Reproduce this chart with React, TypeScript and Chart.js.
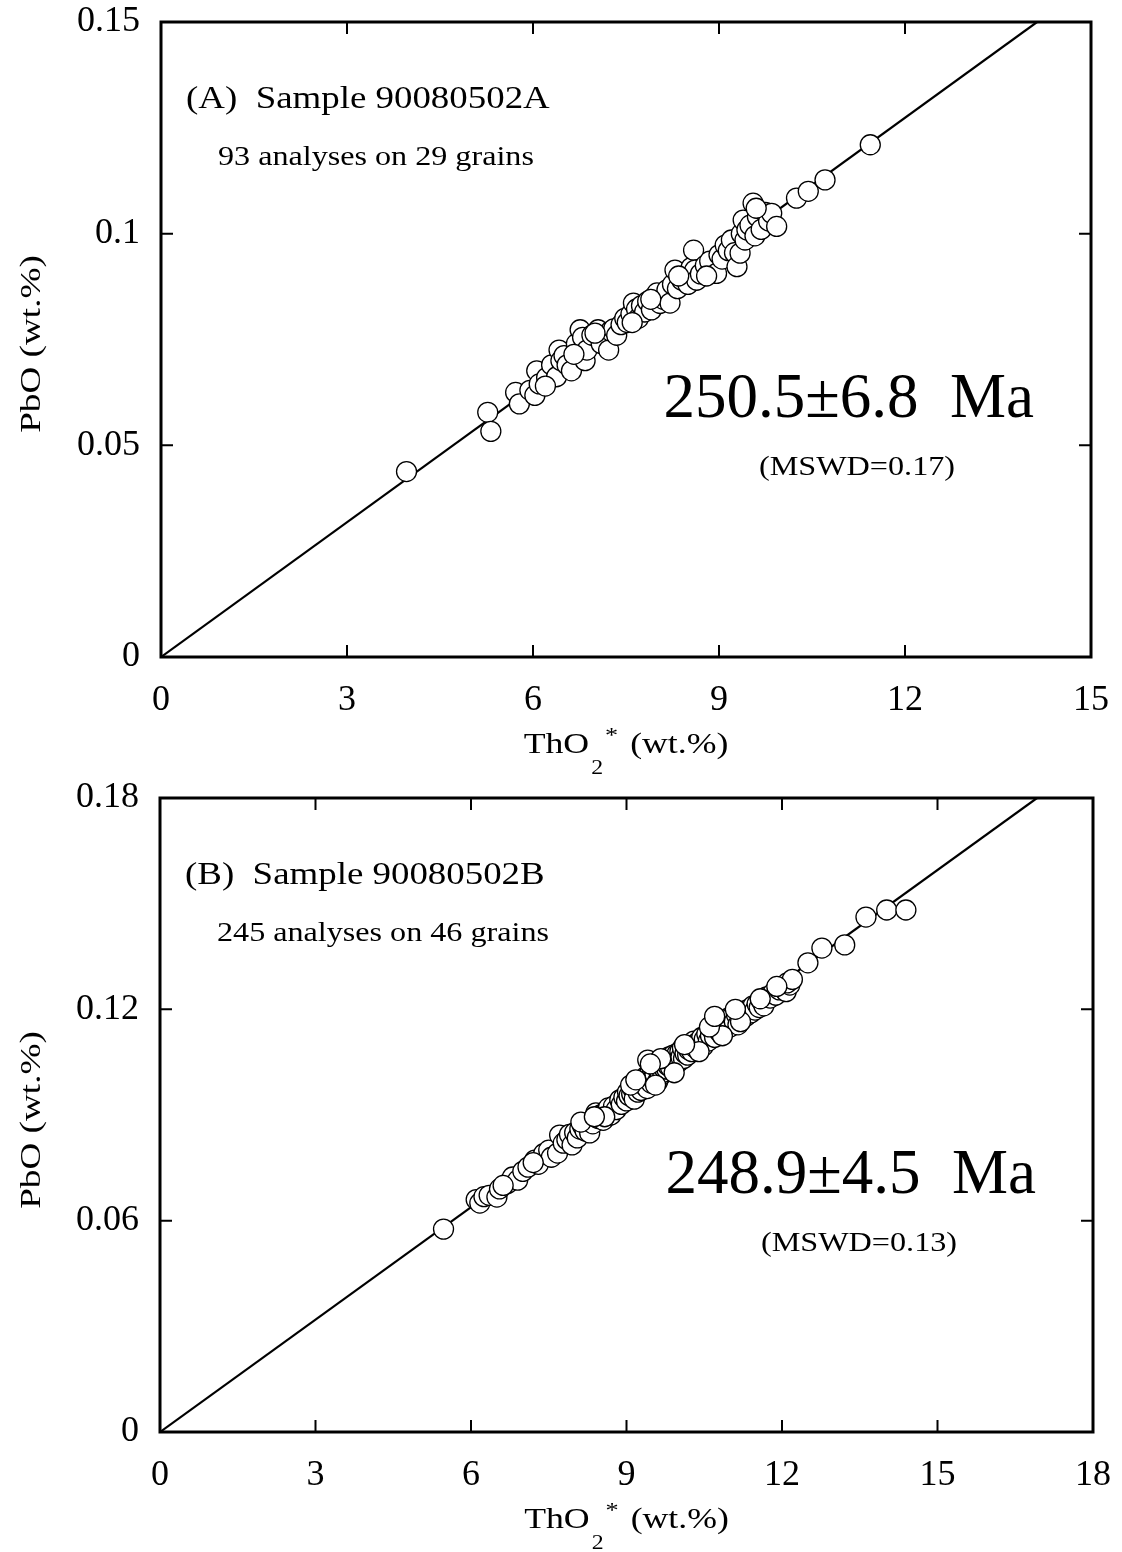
import React, { useEffect, useRef } from "react";
import { Chart, registerables } from "chart.js";

Chart.register(...registerables);

// ---------- Panel A data (ThO2* wt.%, PbO wt.%) ----------
const thoA = [
  3.96, 5.27, 5.32, 5.72, 5.78, 5.95, 6.03, 6.06, 6.1, 6.22, 6.3, 6.38, 6.42, 6.45, 6.5, 6.55,
  6.62, 6.7, 6.76, 6.8, 6.84, 6.87, 6.95, 7.05, 7.1, 7.22, 7.25, 7.3, 7.35, 7.42, 7.48, 7.52,
  7.58, 7.62, 7.67, 7.7, 7.75, 7.8, 7.85, 7.91, 7.95, 8.0, 8.05, 8.1, 8.16, 8.21, 8.25, 8.29,
  8.33, 8.4, 8.45, 8.5, 8.55, 8.59, 8.61, 8.64, 8.7, 8.78, 8.85, 8.96, 9.0, 9.05, 9.1, 9.15,
  9.2, 9.25, 9.29, 9.34, 9.36, 9.39, 9.42, 9.45, 9.5, 9.55, 9.58, 9.62, 9.68, 9.75, 9.8, 9.85,
  9.93, 10.25, 10.44, 10.71, 11.44, 6.2, 7.0, 7.9, 8.8, 9.6, 6.66, 8.35, 7.6,
];
const pboA = [
  0.0438, 0.0578, 0.0533, 0.0625, 0.0598, 0.063, 0.0618, 0.0676, 0.0645, 0.066, 0.069, 0.0662,
  0.0725, 0.07, 0.0712, 0.069, 0.0676, 0.074, 0.0773, 0.0755, 0.07, 0.0725, 0.076, 0.0773,
  0.074, 0.0725, 0.077, 0.0775, 0.076, 0.0785, 0.08, 0.079, 0.081, 0.0836, 0.0822, 0.08,
  0.083, 0.0815, 0.084, 0.082, 0.085, 0.086, 0.0835, 0.0845, 0.0867, 0.0836, 0.088, 0.0914,
  0.087, 0.089, 0.09, 0.088, 0.092, 0.0961, 0.0914, 0.089, 0.0905, 0.0925, 0.0935, 0.0906,
  0.095, 0.094, 0.0973, 0.096, 0.0985, 0.0955, 0.0922, 0.0954, 0.1, 0.1032, 0.0985, 0.1009,
  0.102, 0.1072, 0.0995, 0.104, 0.101, 0.105, 0.103, 0.1048, 0.1017, 0.1084, 0.11, 0.1127,
  0.121, 0.064, 0.0765, 0.0845, 0.09, 0.106, 0.0715, 0.09, 0.079,
];
const lineA = [
  [0, 0],
  [14.13, 0.15],
];
const xTicksA = [0, 3, 6, 9, 12, 15];
const yTicksA = [0, 0.05, 0.1, 0.15];
const textA = ["(A)  Sample 90080502A", "93 analyses on 29 grains", "250.5\u00b16.8  Ma", "(MSWD=0.17)"];

// ---------- Panel B data ----------
const thoB = [
  5.47, 6.1, 6.17, 6.25, 6.35, 6.5, 6.55, 6.7, 6.8, 6.9, 7.0, 7.1, 7.23, 7.3, 7.4, 7.5, 7.55,
  7.67, 7.71, 7.78, 7.85, 7.9, 7.95, 8.0, 8.05, 8.1, 8.15, 8.2, 8.29, 8.3, 8.35, 8.41, 8.45,
  8.5, 8.55, 8.6, 8.65, 8.7, 8.75, 8.8, 8.87, 8.9, 8.95, 9.0, 9.02, 9.05, 9.1, 9.12, 9.15, 9.2,
  9.22, 9.25, 9.28, 9.3, 9.33, 9.35, 9.38, 9.4, 9.41, 9.43, 9.45, 9.48, 9.5, 9.52, 9.55, 9.58,
  9.6, 9.62, 9.65, 9.68, 9.7, 9.72, 9.75, 9.78, 9.8, 9.82, 9.85, 9.88, 9.9, 9.93, 9.95, 9.98,
  10.0, 10.03, 10.05, 10.08, 10.1, 10.13, 10.15, 10.18, 10.2, 10.23, 10.26, 10.3, 10.33, 10.36,
  10.41, 10.45, 10.48, 10.5, 10.55, 10.58, 10.62, 10.66, 10.7, 10.73, 10.76, 10.8, 10.83,
  10.86, 10.9, 10.93, 10.96, 11.0, 11.04, 11.08, 11.12, 11.15, 11.18, 11.22, 11.26, 11.3,
  11.35, 11.4, 11.44, 11.48, 11.52, 11.56, 11.6, 11.65, 11.7, 11.77, 11.82, 11.88, 11.95,
  12.02, 12.08, 12.15, 12.5, 12.77, 13.21, 13.62, 14.02, 14.39, 8.12, 8.58, 9.08, 9.56, 9.92,
  10.4, 10.85, 11.2, 6.62, 7.2, 8.38, 9.18, 9.66, 10.12, 10.6, 11.1, 11.58, 12.1, 12.2, 9.46,
  10.7, 11.9,
];
const pboB = [
  0.0576, 0.066, 0.065, 0.0668, 0.0672, 0.0667, 0.069, 0.0705, 0.0724, 0.0715, 0.074, 0.0752,
  0.0772, 0.076, 0.079, 0.08, 0.078, 0.0792, 0.0843, 0.082, 0.083, 0.0845, 0.0815, 0.085,
  0.0835, 0.086, 0.087, 0.0855, 0.0849, 0.088, 0.0875, 0.0906, 0.089, 0.09, 0.0885, 0.091,
  0.092, 0.09, 0.0925, 0.0915, 0.0943, 0.093, 0.095, 0.094, 0.0965, 0.0955, 0.096, 0.0975,
  0.0945, 0.098, 0.0965, 0.099, 0.097, 0.1, 0.0985, 0.0991, 0.101, 0.0975, 0.1056, 0.1,
  0.102, 0.099, 0.103, 0.1005, 0.1015, 0.104, 0.0995, 0.1025, 0.101, 0.1045, 0.102, 0.1034,
  0.1055, 0.103, 0.104, 0.1065, 0.1035, 0.105, 0.107, 0.1045, 0.106, 0.1075, 0.105, 0.108,
  0.1065, 0.109, 0.106, 0.1075, 0.1095, 0.107, 0.1085, 0.11, 0.108, 0.111, 0.109, 0.1105,
  0.1104, 0.112, 0.1095, 0.1115, 0.113, 0.111, 0.1125, 0.114, 0.112, 0.115, 0.1164, 0.1135,
  0.1155, 0.117, 0.1145, 0.116, 0.1175, 0.115, 0.118, 0.1165, 0.1185, 0.1156, 0.119, 0.1175,
  0.1195, 0.118, 0.12, 0.119, 0.121, 0.1198, 0.1215, 0.1205, 0.1225, 0.121, 0.1235, 0.1232,
  0.1245, 0.124, 0.1255, 0.126, 0.125, 0.1269, 0.1332, 0.1374, 0.1383, 0.1462, 0.1482, 0.1482,
  0.088, 0.0895, 0.0985, 0.0985, 0.102, 0.108, 0.1125, 0.1165, 0.07, 0.0765, 0.0895, 0.1,
  0.106, 0.11, 0.115, 0.12, 0.123, 0.1275, 0.1285, 0.1045, 0.118, 0.1265,
];
const lineB = [
  [0, 0],
  [16.92, 0.18],
];
const xTicksB = [0, 3, 6, 9, 12, 15, 18];
const yTicksB = [0, 0.06, 0.12, 0.18];
const textB = ["(B)  Sample 90080502B", "245 analyses on 46 grains", "248.9\u00b14.5  Ma", "(MSWD=0.13)"];

const SERIF = '"Liberation Serif", "Times New Roman", Times, serif';
const W = 1122;
const H = 776;
const SX = 1.19; // horizontal stretch of the scanned lettering

type PanelProps = {
  xs: number[];
  ys: number[];
  line: number[][];
  xTicks: number[];
  yTicks: number[];
  texts: string[];
  top: number;
  padRight: number;
  padTop: number;
  yAxisWidth: number;
  chartBottom: number;
};

function stretchText(
  ctx: CanvasRenderingContext2D,
  text: string,
  x: number,
  y: number,
  sx: number,
  align: "left" | "right" | "center"
) {
  const w = ctx.measureText(text).width * sx;
  let x0 = x;
  if (align === "right") x0 = x - w;
  if (align === "center") x0 = x - w / 2;
  ctx.save();
  ctx.translate(x0, y);
  ctx.scale(sx, 1);
  ctx.textAlign = "left";
  ctx.fillText(text, 0, 0);
  ctx.restore();
}

function makeOverlay(texts: string[]) {
  return {
    id: "overlay",
    afterDraw(chart: any) {
      const ctx = chart.ctx as CanvasRenderingContext2D;
      const a = chart.chartArea;
      const xs = chart.scales.x;
      const ys = chart.scales.y;
      ctx.save();
      ctx.strokeStyle = "#000";
      ctx.fillStyle = "#000";
      // frame
      ctx.lineWidth = 3;
      ctx.strokeRect(a.left, a.top, a.right - a.left, a.bottom - a.top);
      // inward ticks
      ctx.lineWidth = 2;
      const tl = 12;
      xs.ticks.forEach((t: any) => {
        const px = xs.getPixelForValue(t.value);
        if (Math.abs(px - a.left) < 2 || Math.abs(px - a.right) < 2) return;
        ctx.beginPath();
        ctx.moveTo(px, a.bottom);
        ctx.lineTo(px, a.bottom - tl);
        ctx.moveTo(px, a.top);
        ctx.lineTo(px, a.top + tl);
        ctx.stroke();
      });
      ys.ticks.forEach((t: any) => {
        const py = ys.getPixelForValue(t.value);
        if (Math.abs(py - a.top) < 2 || Math.abs(py - a.bottom) < 2) return;
        ctx.beginPath();
        ctx.moveTo(a.left, py);
        ctx.lineTo(a.left + tl, py);
        ctx.moveTo(a.right, py);
        ctx.lineTo(a.right - tl, py);
        ctx.stroke();
      });
      // x title: ThO2* (wt.%)
      const big = `30px ${SERIF}`;
      const small = `20px ${SERIF}`;
      const star = `22px ${SERIF}`;
      ctx.textBaseline = "alphabetic";
      ctx.font = big;
      const w1 = ctx.measureText("ThO").width;
      const w4 = ctx.measureText("(wt.%)").width;
      ctx.font = small;
      const w2 = ctx.measureText("2").width;
      ctx.font = star;
      const w3 = ctx.measureText("*").width;
      const g1 = 2, g2 = 2, g3 = 12;
      const total = (w1 + w2 + w3 + w4) * SX + g1 + g2 + g3;
      let x0 = (a.left + a.right) / 2 - total / 2;
      const base = a.bottom + 96;
      ctx.font = big;
      stretchText(ctx, "ThO", x0, base, SX, "left");
      x0 += w1 * SX + g1;
      ctx.font = small;
      stretchText(ctx, "2", x0, base + 21, SX, "left");
      x0 += w2 * SX + g2;
      ctx.font = star;
      stretchText(ctx, "*", x0, base - 11, SX, "left");
      x0 += w3 * SX + g3;
      ctx.font = big;
      stretchText(ctx, "(wt.%)", x0, base, SX, "left");
      // y title
      ctx.save();
      ctx.translate(32, a.top + 322);
      ctx.rotate(-Math.PI / 2);
      ctx.textBaseline = "middle";
      ctx.font = `30px ${SERIF}`;
      stretchText(ctx, "PbO (wt.%)", 0, 0, 1.24, "center");
      ctx.restore();
      // annotations
      ctx.textBaseline = "middle";
      ctx.font = `31px ${SERIF}`;
      stretchText(ctx, texts[0], a.left + 25, a.top + 78, SX, "left");
      ctx.font = `27px ${SERIF}`;
      stretchText(ctx, texts[1], a.left + 57, a.top + 136, SX, "left");
      ctx.font = `63px ${SERIF}`;
      stretchText(ctx, texts[2], a.right - 57, a.top + 378, 1.0, "right");
      ctx.font = `28px ${SERIF}`;
      stretchText(ctx, texts[3], a.right - 234, a.top + 446, 1.15, "center");
      ctx.restore();
    },
  };
}

function Panel(p: PanelProps) {
  const ref = useRef<HTMLCanvasElement | null>(null);
  useEffect(() => {
    if (!ref.current) return;
    const pts = p.xs.map((x, i) => ({ x, y: p.ys[i] }));
    const ln = p.line.map((d) => ({ x: d[0], y: d[1] }));
    const xMax = p.xTicks[p.xTicks.length - 1];
    const yMax = p.yTicks[p.yTicks.length - 1];
    const chart = new Chart(ref.current, {
      type: "scatter",
      data: {
        datasets: [
          {
            label: "analyses",
            data: pts,
            pointRadius: 10,
            pointHoverRadius: 10,
            pointBackgroundColor: "#ffffff",
            pointBorderColor: "#000000",
            pointBorderWidth: 1.3,
            order: 0,
          },
          {
            type: "line",
            label: "isochron",
            data: ln,
            showLine: true,
            borderColor: "#000000",
            borderWidth: 2.2,
            pointRadius: 0,
            fill: false,
            order: 1,
          } as any,
        ],
      },
      options: {
        responsive: false,
        animation: false,
        events: [],
        layout: { padding: { top: p.padTop, right: p.padRight, left: 0, bottom: 0 } },
        plugins: { legend: { display: false }, tooltip: { enabled: false } },
        scales: {
          x: {
            type: "linear",
            min: 0,
            max: xMax,
            grid: { display: false, drawTicks: false },
            border: { display: false },
            afterBuildTicks: (s: any) => {
              s.ticks = p.xTicks.map((v) => ({ value: v }));
            },
            afterFit: (s: any) => {
              s.height = H - p.chartBottom;
              s.paddingLeft = 0;
              s.paddingRight = 0;
            },
            ticks: {
              color: "#000",
              padding: 22,
              maxRotation: 0,
              autoSkip: false,
              font: { family: SERIF, size: 36 },
              callback: (v: any) => String(v),
            },
          },
          y: {
            type: "linear",
            min: 0,
            max: yMax,
            grid: { display: false, drawTicks: false },
            border: { display: false },
            afterBuildTicks: (s: any) => {
              s.ticks = p.yTicks.map((v) => ({ value: v }));
            },
            afterFit: (s: any) => {
              s.width = p.yAxisWidth;
              s.paddingTop = 0;
              s.paddingBottom = 0;
            },
            ticks: {
              color: "#000",
              padding: 21,
              autoSkip: false,
              font: { family: SERIF, size: 36 },
              callback: (v: any) => String(Number(Number(v).toFixed(3))),
            },
          },
        },
      },
      plugins: [makeOverlay(p.texts)],
    });
    return () => chart.destroy();
  }, []);
  return (
    <canvas
      ref={ref}
      width={W}
      height={H}
      style={{ position: "absolute", left: 0, top: p.top, width: W, height: H, display: "block" }}
    />
  );
}

export default function App() {
  return (
    <div style={{ position: "absolute", left: 0, top: 0, width: W, height: 1552, background: "#fff" }}>
      <Panel
        xs={thoA}
        ys={pboA}
        line={lineA}
        xTicks={xTicksA}
        yTicks={yTicksA}
        texts={textA}
        top={0}
        padRight={31}
        padTop={22}
        yAxisWidth={161}
        chartBottom={657}
      />
      <Panel
        xs={thoB}
        ys={pboB}
        line={lineB}
        xTicks={xTicksB}
        yTicks={yTicksB}
        texts={textB}
        top={776}
        padRight={29}
        padTop={22}
        yAxisWidth={160}
        chartBottom={656}
      />
    </div>
  );
}
